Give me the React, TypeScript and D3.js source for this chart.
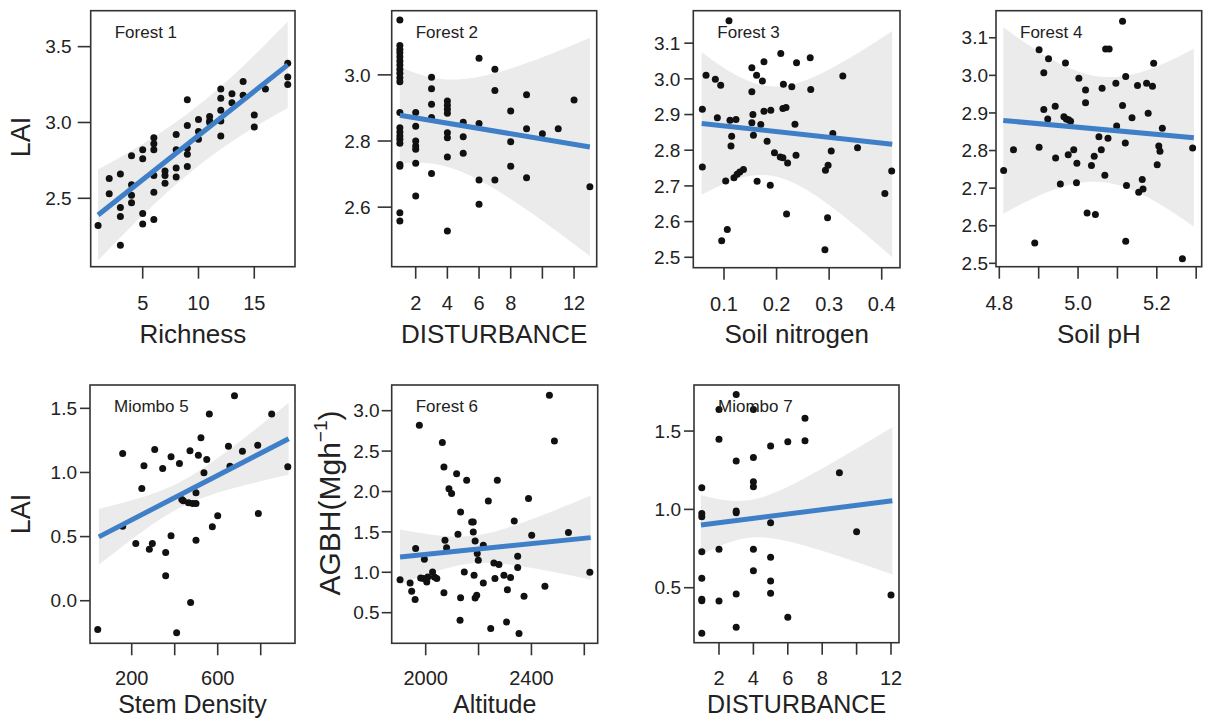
import React from 'react';
import * as d3 from 'd3';

// ---------- Data ----------
// Panel 1: Forest 1 — LAI vs Richness
const p1X = [1,2,2,3,3,3,3,4,4,4,4,5,5,5,5,6,6,6,6,6,6,7,7,7,8,8,8,8,9,9,9,9,9,10,10,10,11,11,11,12,12,12,12,12,13,13,14,14,15,15,16,18,18,18];
const p1Y = [2.32,2.63,2.53,2.66,2.44,2.38,2.19,2.78,2.59,2.52,2.47,2.82,2.76,2.40,2.33,2.90,2.86,2.82,2.65,2.54,2.36,2.68,2.65,2.60,2.92,2.82,2.70,2.64,3.15,2.98,2.83,2.79,2.71,3.02,2.94,2.89,3.04,3.01,3.00,3.22,3.16,3.08,3.01,2.91,3.19,3.13,3.27,3.18,3.05,2.97,3.22,3.39,3.30,3.25];

// Panel 2: Forest 2 — LAI vs DISTURBANCE
const p2X = [1,1,1,1,1,1,1,1,1,1,1,1,1,1,1,1,1,1,1,1,1, 2,2,2,2,2,2,2, 3,3,3,3,3, 4,4,4,4,4,4,4,4, 5,5,5, 6,6,6,6, 7,7,7, 8,8,8, 9,9,9, 10, 11, 12, 13];
const p2Y = [3.166,3.089,3.077,3.067,3.055,3.042,3.030,3.017,3.005,2.991,2.979,2.886,2.840,2.827,2.815,2.805,2.793,2.729,2.724,2.583,2.558,
  2.886,2.845,2.800,2.785,2.775,2.733,2.634,
  2.993,2.958,2.911,2.871,2.702,
  2.921,2.908,2.896,2.884,2.825,2.810,2.752,2.528,
  2.857,2.813,2.763,
  3.050,2.853,2.682,2.609,
  3.017,2.953,2.682,
  2.891,2.798,2.724,
  2.940,2.837,2.689,
  2.822, 2.837, 2.924, 2.662];

// Panel 3: Forest 3 — LAI vs Soil nitrogen
const p3X = [0.1095,0.0588,0.0588,0.0658,0.0835,0.0937,0.0873,0.0956,0.1063,0.1032,0.1114,0.1228,0.1146,0.1133,0.119,0.125,0.130,0.137,0.153,0.162,0.173,0.153,0.155,0.153,0.156,0.170,0.176,0.189,0.176,0.163,0.182,0.188,0.196,0.208,0.207,0.212,0.213,0.212,0.218,0.221,0.219,0.238,0.229,0.235,0.237,0.264,0.265,0.293,0.298,0.304,0.297,0.292,0.307,0.326,0.354,0.406,0.419];
const p3Y = [3.163,2.915,2.753,3.010,2.999,2.982,2.891,2.546,2.578,2.714,2.884,2.886,2.839,2.812,2.723,2.733,2.739,2.746,3.031,3.010,2.994,2.964,2.900,2.877,2.842,2.872,2.909,2.912,3.048,2.713,2.825,2.702,2.793,3.071,2.781,2.779,2.985,2.917,2.920,2.764,2.621,3.045,2.978,2.873,2.786,3.059,2.970,2.744,2.758,2.798,2.611,2.521,2.847,3.008,2.807,2.679,2.742];

// Panel 4: Forest 4 — LAI vs Soil pH
const p4X = [4.811,4.836,4.890,4.901,4.901,4.913,4.913,4.925,4.923,4.942,4.943,4.955,4.968,4.964,4.970,4.976,4.981,4.975,4.989,4.996,4.997,5.002,5.019,5.019,5.023,5.034,5.041,5.044,5.053,5.059,5.061,5.068,5.070,5.079,5.076,5.096,5.098,5.113,5.113,5.120,5.121,5.123,5.121,5.137,5.151,5.154,5.163,5.165,5.174,5.178,5.189,5.192,5.201,5.205,5.208,5.214,5.265,5.291];
const p4Y = [2.747,2.802,2.554,3.068,2.809,3.007,2.909,3.044,2.884,2.918,2.780,2.711,3.033,2.890,2.884,2.882,2.878,2.789,2.802,2.714,2.766,2.992,2.961,2.927,2.634,2.760,2.785,2.630,2.837,2.802,2.966,2.734,3.070,3.070,2.833,2.979,2.865,3.144,2.920,2.820,2.997,2.707,2.559,2.887,2.973,2.689,2.723,2.698,2.979,2.899,2.971,3.032,2.762,2.812,2.798,2.859,2.512,2.807];

// Panel 5: Miombo 5 — LAI vs Stem Density
const p5X = [42,158,158,219,247,257,282,296,307,344,358,358,383,383,422,433,440,464,471,474,409,484,499,499,499,510,522,536,549,561,575,600,650,657,678,715,786,789,851,926];
const p5Y = [-0.224,1.148,0.581,0.446,0.875,1.052,0.402,0.446,1.179,1.031,0.376,0.194,1.122,0.506,1.070,0.789,0.779,0.763,1.169,-0.014,-0.250,0.758,0.758,0.841,0.472,1.135,1.270,0.997,1.101,1.455,0.576,0.662,1.205,1.049,1.598,1.166,1.213,0.680,1.455,1.044];

// Panel 6: Forest 6 — AGBH vs Altitude
const p6X = [1903,1941,1947,1960,1962,1976,1981,1991,1995,2004,2008,2026,2033,2042,2063,2069,2069,2073,2079,2088,2098,2117,2122,2130,2132,2132,2146,2155,2174,2180,2180,2183,2187,2187,2193,2195,2199,2218,2218,2237,2246,2258,2262,2271,2277,2296,2306,2309,2321,2335,2348,2348,2353,2372,2389,2401,2451,2468,2487,2540,2621];
const p6Y = [0.909,0.868,0.765,0.662,1.293,2.819,0.930,0.922,1.161,0.880,0.942,1.004,0.942,0.922,2.605,2.304,0.748,1.396,1.305,2.035,1.974,2.221,1.470,0.406,1.747,0.686,1.004,2.139,1.623,1.623,1.499,0.963,1.388,0.682,0.715,1.231,1.149,1.334,0.868,1.883,0.303,1.116,0.922,2.139,1.095,0.963,0.385,0.785,0.934,1.635,1.198,1.058,0.241,0.703,1.912,1.458,0.827,3.191,2.625,1.491,1.000];

// Panel 7: Miombo 7 — LAI vs DISTURBANCE
const p7X = [1,1,1,1,1,1,1,1, 2,2,2,2, 3,3,3,3,3,3, 4,4,4,4,4,4, 5,5,5,5,5, 6,6, 7,7, 9, 10, 12];
const p7Y = [1.138,0.974,0.953,0.730,0.560,0.426,0.417,0.209, 1.638,1.447,0.745,0.415, 1.734,1.309,0.989,0.979,0.460,0.247, 1.638,1.332,1.177,1.145,0.745,0.609, 1.404,0.915,0.694,0.543,0.464, 1.432,0.311, 1.581,1.438, 1.234, 0.857, 0.453];

// Fitted lines (x range, y at ends) and band half-widths [left, narrowest, right]
const fitX = [[1,18],[1,13],[0.0575,0.42],[4.81,5.294],[47,930],[1903,2624],[0.95,12.08]];
const fitY = [[2.39,3.38],[2.878,2.782],[2.875,2.817],[2.880,2.834],[0.498,1.263],[1.19,1.429],[0.9,1.055]];
const bandHalf = [[0.30,0.20,0.285],[0.147,0.13,0.33],[0.2,0.125,0.317],[0.248,0.14,0.237],[0.218,0.1,0.28],[0.34,0.17,0.52],[0.19,0.12,0.47]];

// Tick values and labels
const xTicksAll = [[5,10,15],[2,4,6,8,10,12],[0.1,0.2,0.3,0.4],[4.8,4.9,5.0,5.1,5.2,5.3],[200,400,600,800],[2000,2200,2400,2600],[2,4,6,8,10,12]];
const xTickLabels = [[5,10,15],[2,4,6,8,12],[0.1,0.2,0.3,0.4],[4.8,5.0,5.2],[200,600],[2000,2400],[2,4,6,8,12]];
const yTicksAll = [[2.5,3.0,3.5],[2.6,2.8,3.0],[2.5,2.6,2.7,2.8,2.9,3.0,3.1],[2.5,2.6,2.7,2.8,2.9,3.0,3.1],[0.0,0.5,1.0,1.5],[0.5,1.0,1.5,2.0,2.5,3.0],[0.5,1.0,1.5]];
const panelLabels = ['Forest 1','Forest 2','Forest 3','Forest 4','Miombo 5','Forest 6','Miombo 7'];
const xTitles = ['Richness','DISTURBANCE','Soil nitrogen','Soil pH','Stem Density','Altitude','DISTURBANCE'];
const yTitles = ['LAI','','','','LAI','AGBH',''];

// ---------- Layout ----------
const layout = [
  { box:[90.7,10.7,295,266.7], xDom:[0.34,18.65], yDom:[2.049,3.737], xFmt:'d', tick:13, gap:19 },
  { box:[391.7,10.7,596.7,266.7], xDom:[0.484,13.43], yDom:[2.420,3.194], xFmt:'d', tick:14, gap:21 },
  { box:[693.3,10.7,900,267.7], xDom:[0.0416,0.4348], yDom:[2.4708,3.191], xFmt:'.1f', tick:9, gap:13 },
  { box:[996,10.7,1201.7,266.7], xDom:[4.7916,5.314], yDom:[2.491,3.172], xFmt:'.1f', tick:7, gap:8 },
  { box:[90,385,295,643.3], xDom:[6,959.5], yDom:[-0.332,1.682], xFmt:'d', tick:10, gap:13 },
  { box:[391.7,385,597.7,643.3], xDom:[1871.4,2650.7], yDom:[0.121,3.318], xFmt:'d', tick:10, gap:12 },
  { box:[694,385,899,642.7], xDom:[0.547,12.465], yDom:[0.149,1.794], xFmt:'d', tick:10, gap:13 },
];
const dataX = [p1X,p2X,p3X,p4X,p5X,p6X,p7X];
const dataY = [p1Y,p2Y,p3Y,p4Y,p5Y,p6Y,p7Y];

const FONT = '"Liberation Sans", Arial, Helvetica, sans-serif';
const TEXT = '#222';
const BLUE = '#3f7fc8';
const BAND = '#ebebeb';

function band(fx: number[], fy: number[], h: number[]) {
  const [x0, x1] = fx; const [y0, y1] = fy; const [hL, hM, hR] = h;
  const A = hM * hM;
  const a = Math.sqrt(Math.max(hL * hL - A, 0));
  const b = Math.sqrt(Math.max(hR * hR - A, 0));
  const sB = (a + b) / (x1 - x0);
  const xc = x0 + a / sB;
  return d3.range(0, 61).map(i => {
    const x = x0 + (x1 - x0) * i / 60;
    const y = y0 + (y1 - y0) * (x - x0) / (x1 - x0);
    const hw = Math.sqrt(A + sB * sB * (x - xc) * (x - xc));
    return { x, lo: y - hw, hi: y + hw };
  });
}

function Panel({ i }: { i: number }) {
  const L = layout[i];
  const [bx0, by0, bx1, by1] = L.box;
  const x = d3.scaleLinear().domain(L.xDom).range([bx0, bx1]);
  const y = d3.scaleLinear().domain(L.yDom).range([by1, by0]);
  const pts = band(fitX[i], fitY[i], bandHalf[i]);
  const area = d3.area<any>().x(d => x(d.x)).y0(d => y(d.lo)).y1(d => y(d.hi));
  const line = d3.line<number>().x(d => x(d)).y((d, k) => y(fitY[i][k]));
  const fx = d3.format(L.xFmt);
  const fy = d3.format('.1f');
  const top = by1 < 400;
  const labelBase = top ? by1 + 43 : 685;
  const titleBase = top ? 343 : 713;
  const titleSize = top ? 26 : 25;
  const xs = dataX[i], ys = dataY[i];
  const clipId = `clip${i}`;
  return (
    <g>
      <defs>
        <clipPath id={clipId}><rect x={bx0} y={by0} width={bx1 - bx0} height={by1 - by0} /></clipPath>
      </defs>
      <g clipPath={`url(#${clipId})`}>
        <path d={area(pts) || ''} fill={BAND} />
        {xs.map((v, k) => (
          <circle key={k} cx={x(v)} cy={y(ys[k])} r={3.5} fill="#111" />
        ))}
        <path d={line(fitX[i]) || ''} stroke={BLUE} strokeWidth={5} fill="none" />
      </g>
      <rect x={bx0} y={by0} width={bx1 - bx0} height={by1 - by0} fill="none" stroke="#333" strokeWidth={1.6} />
      {xTicksAll[i].map(t => (
        <line key={'xt' + t} x1={x(t)} x2={x(t)} y1={by1} y2={by1 + 12} stroke="#333" strokeWidth={1.6} />
      ))}
      {xTickLabels[i].map(t => (
        <text key={'xl' + t} x={x(t)} y={labelBase} textAnchor="middle" fontSize={20} fill={TEXT} fontFamily={FONT}>{fx(t)}</text>
      ))}
      {yTicksAll[i].map(t => (
        <line key={'yt' + t} x1={bx0 - L.tick} x2={bx0} y1={y(t)} y2={y(t)} stroke="#333" strokeWidth={1.6} />
      ))}
      {yTicksAll[i].map(t => (
        <text key={'yl' + t} x={bx0 - L.gap} y={y(t)} dy="0.35em" textAnchor="end" fontSize={19} fill={TEXT} fontFamily={FONT}>{fy(t)}</text>
      ))}
      <text x={(bx0 + bx1) / 2} y={titleBase} textAnchor="middle" fontSize={titleSize} fill={TEXT} fontFamily={FONT}>{xTitles[i]}</text>
      <text x={bx0 + 24} y={by0 + 27} fontSize={17} fill={TEXT} fontFamily={FONT}>{panelLabels[i]}</text>
    </g>
  );
}

export default function App() {
  return (
    <svg width={1208} height={724} style={{ position: 'absolute', left: 0, top: 0, background: '#fff' }}>
      <rect x={0} y={0} width={1208} height={724} fill="#fff" />
      {layout.map((_, i) => <Panel key={i} i={i} />)}
      <text transform="translate(30,137) rotate(-90)" textAnchor="middle" fontSize={27} fill={TEXT} fontFamily={FONT}>{yTitles[0]}</text>
      <text transform="translate(30,514) rotate(-90)" textAnchor="middle" fontSize={27} fill={TEXT} fontFamily={FONT}>{yTitles[4]}</text>
      <text transform="translate(340,503) rotate(-90)" textAnchor="middle" fontSize={30} fill={TEXT} fontFamily={FONT}>
        {yTitles[5]}(Mgh<tspan fontSize={19} dy={-13}>−1</tspan><tspan dy={13}>)</tspan>
      </text>
    </svg>
  );
}
